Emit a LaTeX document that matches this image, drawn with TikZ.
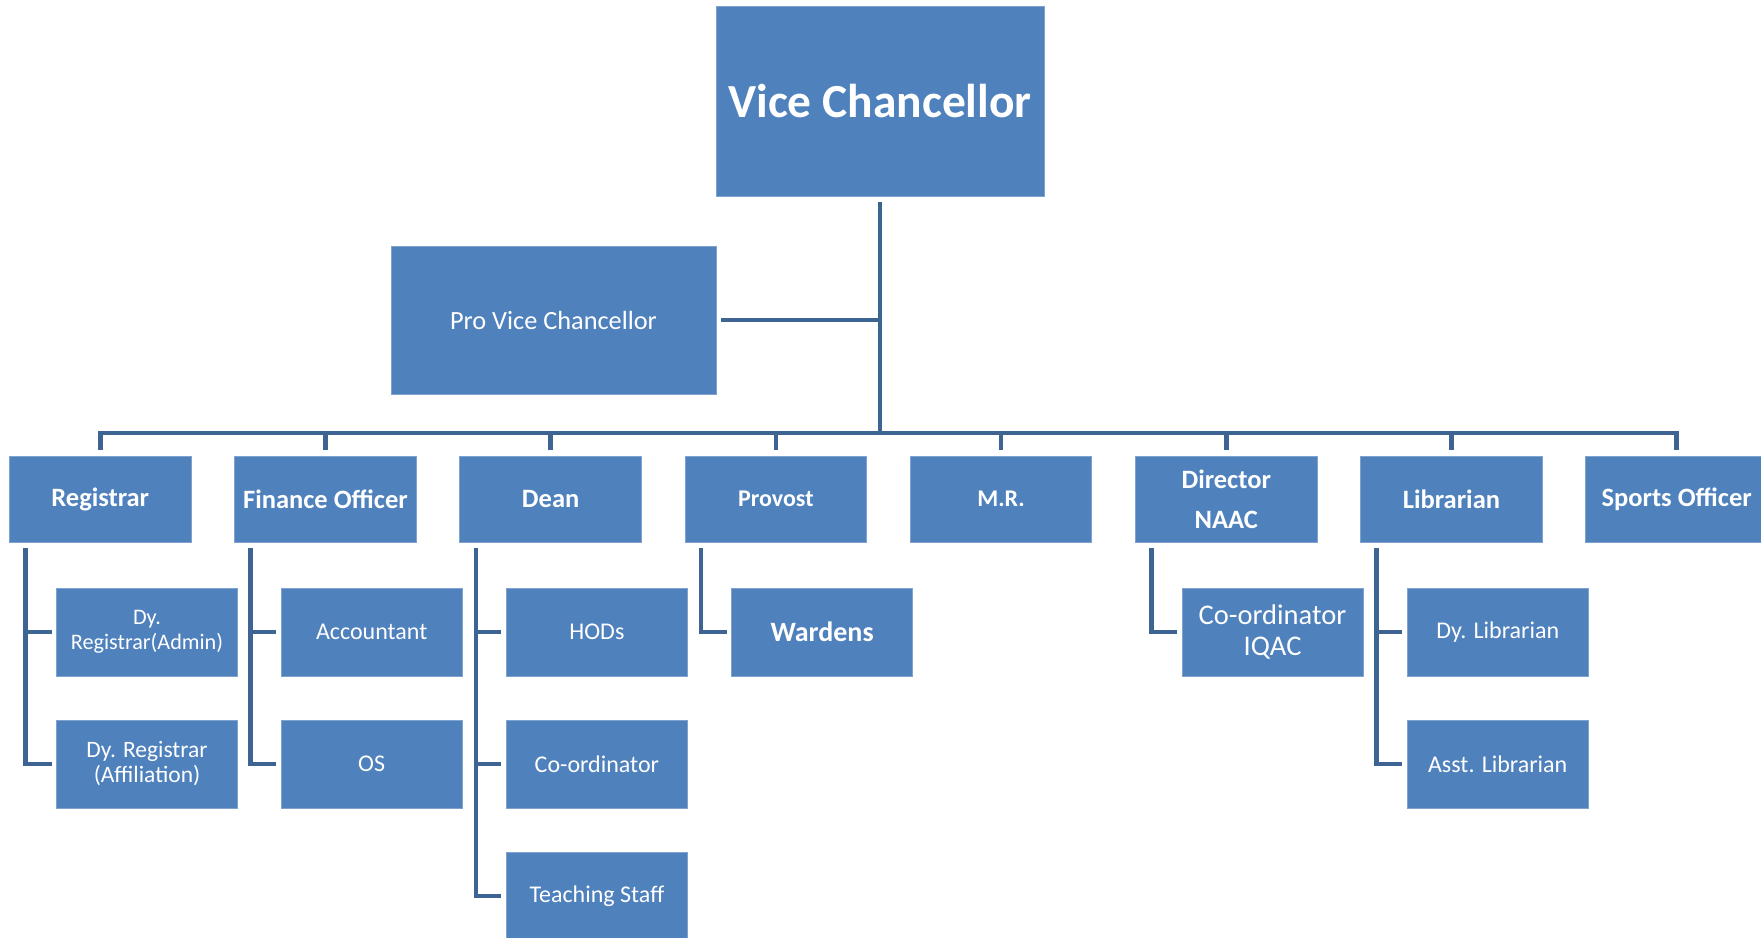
\documentclass[tikz,border=0pt]{standalone}
\usepackage{fontspec}
\setmainfont{Carlito}
\definecolor{boxfill}{RGB}{79,129,189}
\definecolor{boxline}{RGB}{128,162,206}
\definecolor{connline}{RGB}{62,100,148}
\tikzset{
  orgbox/.style={draw=boxline, line width=1pt, fill=boxfill, text=white, inner sep=0pt, outer sep=0pt, anchor=north west, align=center},
  topbox/.style={orgbox, minimum width=181.5pt, minimum height=86.5pt, font=\bfseries\fontsize{26.5}{32}\selectfont},
  kidbox/.style={orgbox, minimum width=181pt, minimum height=88pt, font=\fontsize{24}{28}\selectfont},
  conn/.style={draw=connline, line width=4.5pt, line join=miter}
}
\begin{document}
\begin{tikzpicture}[x=1pt,y=-1pt]
\useasboundingbox (0,0) rectangle (1761,937);
% top
\node[orgbox, minimum width=328pt, minimum height=190pt, font=\bfseries\fontsize{47.5}{56}\selectfont] (vc) at (716,6) {Vice Chancellor};
\node[orgbox, minimum width=325pt, minimum height=148pt, font=\fontsize{26.3}{32}\selectfont] (pvc) at (391,246) {Pro Vice Chancellor};
\coordinate (bus) at (880,433);
% level 1
\node[topbox] (reg) at (9.5,456) {Registrar};
\node[topbox] (fin) at (234.7,456) {Finance Officer};
\node[topbox] (dean) at (459.9,456) {Dean};
\node[topbox, font=\bfseries\fontsize{24}{30}\selectfont] (prov) at (685.1,456) {Provost};
\node[topbox, font=\bfseries\fontsize{24}{30}\selectfont] (mr) at (910.3,456) {M.R.};
\node[topbox, font=\bfseries\fontsize{26.5}{40}\selectfont] (dir) at (1135.5,456) {Director\\NAAC};
\node[topbox] (lib) at (1360.7,456) {Librarian};
\node[topbox] (spo) at (1585.9,456) {Sports Officer};
% level 2
\node[kidbox, font=\fontsize{22.2}{25}\selectfont] (dra) at (56.5,588) {Dy.\\Registrar(Admin)};
\node[kidbox, font=\fontsize{23.5}{25}\selectfont] (drf) at (56.5,720) {Dy. Registrar\\(Affiliation)};
\node[kidbox] (acc) at (281.2,588) {Accountant};
\node[kidbox] (os) at (281.2,720) {OS};
\node[kidbox] (hod) at (506.4,588) {HODs};
\node[kidbox] (coo) at (506.4,720) {Co-ordinator};
\node[kidbox] (tea) at (506.4,852) {Teaching Staff};
\node[kidbox, font=\bfseries\fontsize{28}{32}\selectfont] (war) at (731.6,588) {Wardens};
\node[kidbox, font=\fontsize{28.5}{30.7}\selectfont] (iqac) at (1182,588) {Co-ordinator\\IQAC};
\node[kidbox] (dlib) at (1407.2,588) {Dy. Librarian};
\node[kidbox] (alib) at (1407.2,720) {Asst. Librarian};
% connectors top
\draw[conn, shorten <=6pt] (vc.south) -- (vc.south |- bus);
\draw[conn, shorten <=5pt] (pvc.east) -- (pvc.east -| vc.south);
\draw[conn, shorten <=6pt, shorten >=6pt] (reg.north) -- (reg.north |- bus) -- (spo.north |- bus) -- (spo.north);
\foreach \n in {fin,dean,prov,mr,dir,lib}{
  \draw[conn, shorten <=6pt] (\n.north) -- (\n.north |- bus);
}
% children
\draw[conn] ([xshift=16pt,yshift=-5pt]reg.south west) |- ([xshift=-5pt]drf.west);
\draw[conn] ([xshift=16pt]reg.south west |- dra.west) -- ([xshift=-5pt]dra.west);
\draw[conn] ([xshift=16pt,yshift=-5pt]fin.south west) |- ([xshift=-5pt]os.west);
\draw[conn] ([xshift=16pt]fin.south west |- acc.west) -- ([xshift=-5pt]acc.west);
\draw[conn] ([xshift=16pt,yshift=-5pt]dean.south west) |- ([xshift=-5pt]tea.west);
\draw[conn] ([xshift=16pt]dean.south west |- hod.west) -- ([xshift=-5pt]hod.west);
\draw[conn] ([xshift=16pt]dean.south west |- coo.west) -- ([xshift=-5pt]coo.west);
\draw[conn] ([xshift=16pt,yshift=-5pt]prov.south west) |- ([xshift=-5pt]war.west);
\draw[conn] ([xshift=16pt,yshift=-5pt]dir.south west) |- ([xshift=-5pt]iqac.west);
\draw[conn] ([xshift=16pt,yshift=-5pt]lib.south west) |- ([xshift=-5pt]alib.west);
\draw[conn] ([xshift=16pt]lib.south west |- dlib.west) -- ([xshift=-5pt]dlib.west);
\end{tikzpicture}
\end{document}
